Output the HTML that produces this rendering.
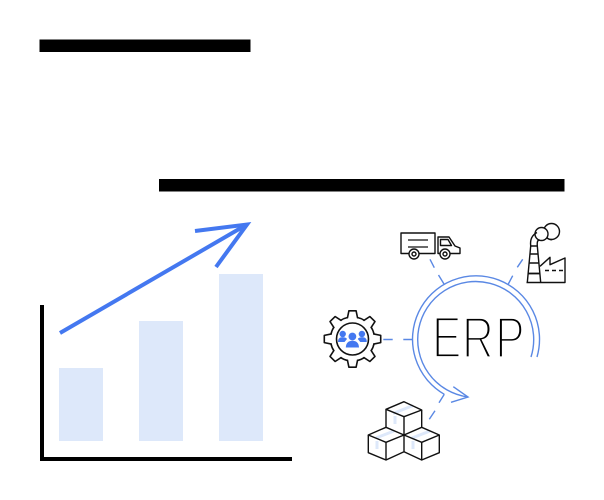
<!DOCTYPE html>
<html>
<head>
<meta charset="utf-8">
<style>
html,body{margin:0;padding:0;background:#fff;width:604px;height:500px;overflow:hidden}
svg{display:block}
</style>
</head>
<body>
<svg width="604" height="500" viewBox="0 0 604 500" xmlns="http://www.w3.org/2000/svg">
<rect width="604" height="500" fill="#fff"/>
<rect x="39.5" y="39.5" width="211" height="12.5" fill="#000"/>
<rect x="159" y="179" width="405.5" height="12.5" fill="#000"/>

<rect x="59" y="368" width="44" height="73" fill="#dde8fa"/>
<rect x="139" y="321" width="44" height="120" fill="#dde8fa"/>
<rect x="219" y="274" width="44" height="167" fill="#dde8fa"/>
<rect x="40" y="305" width="4" height="156" fill="#000"/>
<rect x="40" y="457" width="252" height="4" fill="#000"/>
<g fill="none" stroke="#4478f0" stroke-width="4">
<path d="M60 333 L246 225"/>
<path d="M195 231 L247 224.5 L216 267"/>
</g>

<text transform="scale(.76 1)" x="568.4 607.9 651.7" y="357.3" font-family="'Liberation Sans',sans-serif" font-size="58" fill="#000" stroke="#fff" stroke-width="2.8">ERP</text>

<g fill="none" stroke="#5a88e4" stroke-width="1.4">
<path d="M537 357 A63.5 63.5 0 1 0 444.3 394.3"/>
<path d="M531 357 A58 58 0 1 0 468 397"/>
<path d="M453.3 386.7 L468 397 L451 402.3"/>
<path d="M430 259.3 L434.3 267.7 M438.5 275 L444 284"/>
<path d="M517.3 267.3 L522.7 259.3 M508.3 284 L512.7 275.7"/>
<path d="M383.3 339.5 H392.7 M403.3 339.5 H412.7"/>
<path d="M429.3 419.3 L435 410.7 M439 402.7 L444.3 394.3"/>
</g>

<!-- truck -->
<g fill="none" stroke="#111" stroke-width="1.4" stroke-linejoin="round">
<rect x="401" y="233" width="34" height="20.5" fill="#fff"/>
<path d="M408 240 H428 M408 247 H428" stroke-width="1.3"/>
<path d="M438 253.5 V237 H449 L455 246 L460 248 V253.5 Z" fill="#fff"/>
<path d="M440.5 239.5 H448 L451.5 245.5 H440.5 Z"/>
<circle cx="414" cy="254" r="5" fill="#fff"/>
<circle cx="414" cy="254" r="2"/>
<circle cx="445" cy="254" r="5" fill="#fff"/>
<circle cx="445" cy="254" r="2"/>
</g>

<!-- factory -->
<g fill="none" stroke="#111" stroke-width="1.4" stroke-linejoin="round">
<circle cx="551.5" cy="231.5" r="8" fill="#fff"/>
<circle cx="541.5" cy="234" r="6.5" fill="#fff"/>
<path d="M547 237.5 A5 5 0 0 0 552 239.5" />
<path d="M530.7 246 C530 240 532 235 537 232.5 M537.3 246 C537 242 537.5 240 539.5 240"/>
<path d="M527.3 282.5 L530.7 246 H537.3 L540.7 282.5"/>
<path d="M530 254 H538 M529.5 263 H539"/>
<path d="M528.5 273.5 H540" stroke-width="1.8"/>
<path d="M526.5 282.5 H565 V258 L550 264.7 V257.3 L540 266.3"/>
<path d="M545 270.5 H549 M552 270.5 H556 M559 270.5 H563"/>
</g>

<!-- gear -->
<g transform="translate(352.5 339)" stroke="#111" stroke-width="1.6" stroke-linejoin="round">
<circle r="22" fill="#fff"/>
<g fill="#fff">
<path d="M-5.2 -20.5 L-3.6 -28.2 H3.6 L5.2 -20.5"/>
<path transform="rotate(45)" d="M-5.2 -20.5 L-3.6 -28.2 H3.6 L5.2 -20.5"/>
<path transform="rotate(90)" d="M-5.2 -20.5 L-3.6 -28.2 H3.6 L5.2 -20.5"/>
<path transform="rotate(135)" d="M-5.2 -20.5 L-3.6 -28.2 H3.6 L5.2 -20.5"/>
<path transform="rotate(180)" d="M-5.2 -20.5 L-3.6 -28.2 H3.6 L5.2 -20.5"/>
<path transform="rotate(225)" d="M-5.2 -20.5 L-3.6 -28.2 H3.6 L5.2 -20.5"/>
<path transform="rotate(270)" d="M-5.2 -20.5 L-3.6 -28.2 H3.6 L5.2 -20.5"/>
<path transform="rotate(315)" d="M-5.2 -20.5 L-3.6 -28.2 H3.6 L5.2 -20.5"/>
</g>
<circle r="21.1" fill="#fff" stroke="none"/>
<circle r="16" fill="none"/>
</g>
<g fill="#4478f0">
<circle cx="342.7" cy="334" r="3.2"/>
<circle cx="361.9" cy="334" r="3.2"/>
<path d="M338 342 C338 338 340 337.3 343 337.3 C345 337.3 346.5 338 347 339 L344.5 342 Z"/>
<path d="M366.8 342 C366.8 338 364.8 337.3 361.8 337.3 C359.8 337.3 358.3 338 357.8 339 L360.3 342 Z"/>
<circle cx="352.4" cy="336.5" r="3.9"/>
<path d="M345.8 347.5 C346 342.5 349 340.8 352.4 340.8 C355.8 340.8 358.8 342.5 359 347.5 Z"/>
</g>

<!-- boxes -->
<g fill="none" stroke="#dde8fa" stroke-width="3">
<path d="M393 413.5 L413 405.5 M395 416 V424"/>
<path d="M376 438 L394 431 M377 441 V449"/>
<path d="M412 438 L430 431 M413 441 V449"/>
</g>
<g fill="none" stroke="#111" stroke-width="1.4" stroke-linejoin="round">
<path d="M386 409.3 L404 401.7 L421.7 410 L404 416.7 Z"/>
<path d="M386 409.3 V427.3 M421.7 410 V427.3 M404 416.7 V435"/>
<path d="M368.3 435 L386 427.3 L404 435 L386 442.3 Z"/>
<path d="M368.3 435 V452.7 L386 460 L404 451.7 V435 M386 442.3 V460"/>
<path d="M404 435 L421.7 427.3 L439.3 435 L421.7 442.3 Z"/>
<path d="M404 451.7 L421.7 460 L439.3 452.7 V435 M421.7 442.3 V460"/>
</g>
</svg>
</body>
</html>
